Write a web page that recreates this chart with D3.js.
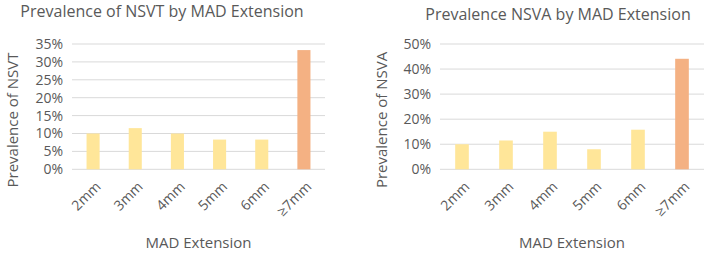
<!DOCTYPE html>
<html>
<head>
<meta charset="utf-8">
<script src="https://cdn.jsdelivr.net/npm/d3@7"></script>
<style>
  body { margin: 0; background: #fff; }
  text { font-family: "Open Sans", sans-serif; fill: #595959; }
</style>
</head>
<body>
<div class="usable"></div>
<script>
// datos
const categorias = ["2mm", "3mm", "4mm", "5mm", "6mm", "\u22657mm"]
const valoresNSVT = [0.10, 0.115, 0.10, 0.083, 0.083, 0.333]
const valoresNSVA = [0.10, 0.115, 0.15, 0.08, 0.158, 0.441]
const ticksNSVT = [0, 0.05, 0.10, 0.15, 0.20, 0.25, 0.30, 0.35]
const ticksNSVA = [0, 0.10, 0.20, 0.30, 0.40, 0.50]
const colores = ["#FFE699", "#FFE699", "#FFE699", "#FFE699", "#FFE699", "#F4B183"]

const width = 709, height = 257

let svg = d3.select(".usable").append("svg")
  .attr("width", width)
  .attr("height", height)

function dibujarGrafico(cfg) {
  let g = svg.append("g")
  let x = d3.scaleBand().domain(categorias).range([cfg.x0, cfg.x1]).paddingInner(0.69).paddingOuter(0.345)
  let y = d3.scaleLinear().domain([0, cfg.max]).range([169.3, 44])

  // lineas de la grilla
  g.selectAll(".grid").data(cfg.ticks).enter().append("line")
    .attr("x1", cfg.x0).attr("x2", cfg.x1)
    .attr("y1", d => y(d)).attr("y2", d => y(d))
    .attr("stroke", "#d9d9d9").attr("stroke-width", 1)

  // etiquetas del eje y
  let ejeY = d3.axisLeft(y).tickValues(cfg.ticks).tickFormat(d3.format(".0%")).tickSize(0).tickPadding(0)
  let gy = g.append("g").attr("transform", "translate(" + (cfg.x0 - 9) + ",0)").call(ejeY)
  gy.select(".domain").remove()
  gy.selectAll("text").style("font-size", "14px").attr("fill", "#595959").style("font-family", "Open Sans, sans-serif")

  // barras
  g.selectAll(".bar").data(cfg.valores).enter().append("rect")
    .attr("x", (d, i) => x(categorias[i]))
    .attr("width", x.bandwidth())
    .attr("y", d => y(d))
    .attr("height", d => y(0) - y(d))
    .attr("fill", (d, i) => colores[i])

  // etiquetas del eje x rotadas
  g.selectAll(".cat").data(categorias).enter().append("text")
    .attr("transform", d => "translate(" + (x(d) + x.bandwidth() / 2 + 5) + ",184) rotate(-45)")
    .attr("text-anchor", "end")
    .attr("dy", "0.35em")
    .style("font-size", "14px")
    .text(d => d)

  // titulo
  g.append("text").attr("x", cfg.tx).attr("y", cfg.ty).attr("text-anchor", "middle")
    .style("font-size", "16px").text(cfg.titulo)

  // titulo eje y
  g.append("text").attr("transform", "translate(" + cfg.yx + ",120) rotate(-90)")
    .attr("text-anchor", "middle").attr("dy", "0.35em")
    .style("font-size", "15px").text(cfg.tituloY)

  // titulo eje x
  g.append("text").attr("x", (cfg.x0 + cfg.x1) / 2).attr("y", 248).attr("text-anchor", "middle")
    .style("font-size", "15px").text("MAD Extension")
}

dibujarGrafico({
  x0: 72, x1: 325, max: 0.35, ticks: ticksNSVT, valores: valoresNSVT,
  titulo: "Prevalence of NSVT by MAD Extension", tx: 162, ty: 17, tituloY: "Prevalence of NSVT", yx: 13
})

dibujarGrafico({
  x0: 440, x1: 704, max: 0.50, ticks: ticksNSVA, valores: valoresNSVA,
  titulo: "Prevalence NSVA by MAD Extension", tx: 558, ty: 20, tituloY: "Prevalence of NSVA", yx: 382
})
</script>
</body>
</html>
